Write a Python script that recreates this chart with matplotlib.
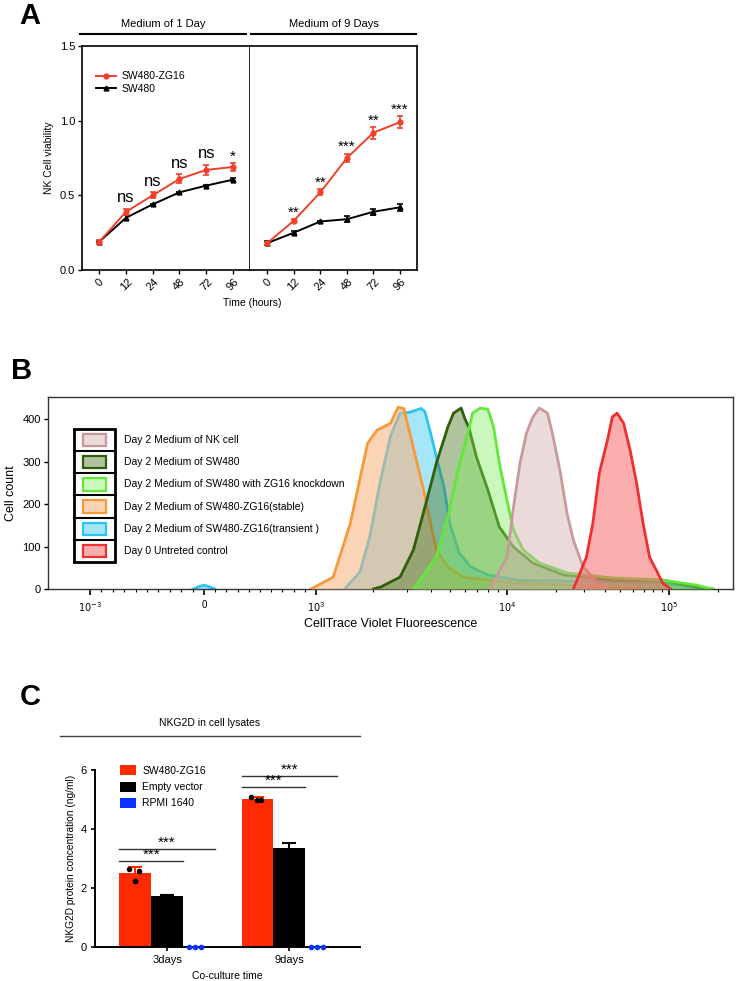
import numpy as np
import matplotlib
matplotlib.use('Agg')
from matplotlib import pyplot as plt
from matplotlib.patches import Rectangle
from matplotlib.lines import Line2D

plt.rcParams['font.family'] = ['Liberation Sans', 'DejaVu Sans']

# ---------------- panel A data
time_labels = ['0', '12', '24', '48', '72', '96']
day1_zg16 = [0.19, 0.39, 0.50, 0.61, 0.67, 0.69]
day1_zg16_err = [0.01, 0.02, 0.02, 0.03, 0.035, 0.025]
day1_sw480 = [0.19, 0.35, 0.44, 0.52, 0.565, 0.605]
day1_sw480_err = [0.005, 0.015, 0.005, 0.005, 0.005, 0.01]
day9_zg16 = [0.18, 0.33, 0.52, 0.75, 0.92, 0.99]
day9_zg16_err = [0.01, 0.01, 0.02, 0.03, 0.04, 0.04]
day9_sw480 = [0.18, 0.25, 0.325, 0.34, 0.39, 0.42]
day9_sw480_err = [0.015, 0.01, 0.005, 0.02, 0.02, 0.025]
day1_sig = ['', 'ns', 'ns', 'ns', 'ns', '*']
day9_sig = ['', '**', '**', '***', '**', '***']

# ---------------- panel B data (log10 fluorescence, cell count)
nk_logfl = [3.91, 4.00, 4.04, 4.08, 4.12, 4.16, 4.20, 4.25, 4.28, 4.33, 4.37, 4.41, 4.47, 4.56, 4.62]
nk_count = [0, 75, 193, 296, 367, 405, 426, 414, 367, 273, 179, 115, 52, 14, 0]
sw_logfl = [3.30, 3.34, 3.44, 3.51, 3.58, 3.63, 3.69, 3.72, 3.76, 3.78, 3.80, 3.84, 3.90,
            3.96, 4.04, 4.16, 4.35, 4.65, 4.96, 5.17, 5.27]
sw_count = [0, 5, 28, 92, 209, 296, 381, 414, 426, 400, 381, 311, 233, 146, 99, 61, 33, 21, 21, 5, 0]
kd_logfl = [3.51, 3.63, 3.69, 3.74, 3.79, 3.82, 3.86, 3.90, 3.93, 3.96, 4.00, 4.04, 4.10,
            4.20, 4.37, 4.65, 4.96, 5.17, 5.27]
kd_count = [0, 75, 169, 273, 358, 414, 426, 423, 381, 296, 209, 139, 92, 61, 38, 26, 21, 9, 0]
st_logfl = [2.98, 3.09, 3.18, 3.27, 3.32, 3.39, 3.43, 3.46, 3.50, 3.56, 3.60, 3.63, 3.69,
            3.77, 4.04, 4.45, 4.82]
st_count = [0, 28, 155, 343, 374, 390, 428, 425, 350, 240, 155, 92, 52, 28, 14, 8, 0]
tr_logfl = [3.15, 3.23, 3.28, 3.34, 3.39, 3.44, 3.49, 3.55, 3.57, 3.60, 3.63, 3.67, 3.70,
            3.75, 3.81, 3.90, 4.08, 4.57, 4.94, 5.13, 5.19]
tr_count = [0, 40, 120, 260, 360, 414, 416, 425, 418, 367, 311, 240, 155, 85, 52, 33, 20, 18, 15, 5, 0]
tr_zero_fl = [-95, -40, 0, 40, 95]
tr_zero_count = [0, 6, 9, 6, 0]
d0_logfl = [4.41, 4.49, 4.53, 4.57, 4.62, 4.65, 4.68, 4.72, 4.76, 4.80, 4.84, 4.88, 4.93, 4.96, 5.01]
d0_count = [0, 75, 155, 273, 350, 405, 414, 390, 327, 249, 155, 75, 38, 14, 0]
b_labels = ['Day 2 Medium of NK cell', 'Day 2 Medium of SW480',
            'Day 2 Medium of SW480 with ZG16 knockdown', 'Day 2 Medium of SW480-ZG16(stable)',
            'Day 2 Medium of SW480-ZG16(transient )', 'Day 0 Untreted control']

# ---------------- panel C data
groups = ['3days', '9days']
zg16_vals = [2.52, 5.02]
zg16_err = [0.2, 0.07]
zg16_pts = [[2.63, 2.58, 2.25], [5.10, 5.00, 5.00]]
vector_vals = [1.72, 3.36]
vector_err = [0.03, 0.16]
rpmi_vals = [0.0, 0.0]
rpmi_pts = [[0.0, 0.0, 0.0], [0.0, 0.0, 0.0]]
sig_short = [2.91, 5.42]
sig_long = [3.32, 5.80]

W, H = 737, 981
fig = plt.figure(figsize=(W / 100, H / 100), dpi=100)


def rect(l, t, r, b):
    return [l / W, 1 - b / H, (r - l) / W, (b - t) / H]


def hline(x0, x1, y, lw=1.5, color='black'):
    fig.add_artist(Line2D([x0 / W, x1 / W], [1 - y / H, 1 - y / H], lw=lw, color=color))


def ftext(x, y, s, **kw):
    fig.text(x / W, 1 - y / H, s, **kw)


RED_A = '#f0412a'

# ================= panel A
ftext(30, 16, 'A', fontsize=21, fontweight='bold', ha='center', va='center')
axA1 = fig.add_axes(rect(82, 46, 250, 270))
axA2 = fig.add_axes(rect(250, 46, 417, 270))
x = np.arange(len(time_labels))
for ax, zg, zge, sw, swe, sig, title, (l0, l1) in [
        (axA1, day1_zg16, day1_zg16_err, day1_sw480, day1_sw480_err, day1_sig, 'Medium of 1 Day', (80, 246)),
        (axA2, day9_zg16, day9_zg16_err, day9_sw480, day9_sw480_err, day9_sig, 'Medium of 9 Days', (251, 416))]:
    ax.errorbar(x, sw, yerr=swe, color='black', marker='^', ms=3.5, lw=1.4,
                elinewidth=1.2, capsize=2.5, capthick=1.2, zorder=3)
    ax.errorbar(x, zg, yerr=zge, color=RED_A, marker='o', ms=3.5, lw=1.4,
                elinewidth=1.2, capsize=2.5, capthick=1.2, zorder=4)
    for xi, yi, ei, s in zip(x, zg, zge, sig):
        if s == 'ns':
            ax.text(xi, yi + ei + 0.025, s, ha='center', va='bottom', fontsize=12)
        elif s:
            ax.text(xi, yi + ei - 0.005, s, ha='center', va='bottom', fontsize=11)
    ax.set_xlim(-0.65, 5.64)
    ax.set_ylim(0, 1.5)
    ax.set_xticks(x)
    ax.set_xticklabels(time_labels, rotation=45, fontsize=8)
    for sp in ax.spines.values():
        sp.set_linewidth(1.2)
    ax.tick_params(axis='x', length=3, width=1, pad=2)
    hline(l0, l1, 34)
    ftext((l0 + l1) / 2, 24, title, fontsize=8, ha='center', va='center')
axA1.set_yticks([0, 0.5, 1.0, 1.5])
axA1.set_yticklabels(['0.0', '0.5', '1.0', '1.5'], fontsize=8)
axA1.tick_params(axis='y', length=3, width=1, pad=2)
axA1.set_ylabel('NK Cell viability', fontsize=7.5, labelpad=4)
axA2.set_yticks([])
axA2.spines['left'].set_visible(False)
ftext(252, 303, 'Time (hours)', fontsize=7.5, ha='center', va='center')
handles = [Line2D([], [], color=RED_A, marker='o', ms=3.5, lw=1.4),
           Line2D([], [], color='black', marker='^', ms=3.5, lw=1.4)]
axA1.legend(handles, ['SW480-ZG16', 'SW480'], loc='upper left', bbox_to_anchor=(0.06, 0.905),
            frameon=False, fontsize=7.5, handlelength=1.9, labelspacing=0.25,
            handletextpad=0.5, borderaxespad=0)

# ================= panel B
ftext(22, 371, 'B', fontsize=21, fontweight='bold', ha='center', va='center')
axB = fig.add_axes(rect(48, 397, 733, 589))

NEG_PX, ZERO_PX, POS_PX = 90.0, 204.0, 316.0
DEC = [3.0, 4.0, 5.0, 7.0]
DEC_PX = [316.0, 507.0, 669.0, 993.0]


def fwd(v):
    v = np.asarray(v, dtype=float)
    with np.errstate(divide='ignore', invalid='ignore'):
        lg = np.log10(np.clip(np.abs(v), 1e-9, None))
    hi = np.interp(lg, DEC, DEC_PX, left=DEC_PX[0], right=None)
    hi = np.where(lg > DEC[-1], DEC_PX[-1] + (lg - DEC[-1]) * 162.0, hi)
    lin = np.where(v >= 0, ZERO_PX + v * (POS_PX - ZERO_PX) / 1000.0,
                   ZERO_PX + v * (ZERO_PX - NEG_PX) / 1000.0)
    return np.where(v >= 1000, hi, np.where(v <= -1000, NEG_PX - (hi - POS_PX), lin))


def inv(u):
    u = np.asarray(u, dtype=float)
    hi = 10 ** np.interp(u, DEC_PX, DEC, left=DEC[0], right=None)
    hi = np.where(u > DEC_PX[-1], 10 ** (DEC[-1] + (u - DEC_PX[-1]) / 162.0), hi)
    lo = -10 ** np.interp(NEG_PX - u + POS_PX, DEC_PX, DEC, left=DEC[0])
    lin = np.where(u >= ZERO_PX, (u - ZERO_PX) * 1000.0 / (POS_PX - ZERO_PX),
                   (u - ZERO_PX) * 1000.0 / (ZERO_PX - NEG_PX))
    return np.where(u >= POS_PX, hi, np.where(u <= NEG_PX, lo, lin))


axB.set_xscale('function', functions=(fwd, inv))

series = [
    # logfl, count, edge, fill, alpha, zorder
    (tr_logfl, tr_count, '#2ec4f2', '#5cd3f5', 0.55, 2),
    (st_logfl, st_count, '#f7993a', '#f9b27a', 0.55, 3),
    (sw_logfl, sw_count, '#2f5e0c', '#4f7a28', 0.45, 4),
    (kd_logfl, kd_count, '#63e83a', '#7cef58', 0.40, 5),
    (nk_logfl, nk_count, '#c99a9a', '#d3aeae', 0.45, 6),
    (d0_logfl, d0_count, '#ef3030', '#f66a6a', 0.55, 7),
]
for lf, cnt, ec, fc, al, z in series:
    fl = 10 ** np.array(lf)
    axB.fill_between(fl, cnt, 0, color=fc, alpha=al, lw=0, zorder=z)
    axB.plot(fl, cnt, color=ec, lw=2.0, zorder=z + 0.5)
axB.fill_between(tr_zero_fl, tr_zero_count, 0, color='#5cd3f5', alpha=0.55, lw=0, zorder=2)
axB.plot(tr_zero_fl, tr_zero_count, color='#2ec4f2', lw=2.0, zorder=2.5)

axB.set_xlim(inv(48.0), inv(733.0))
axB.set_ylim(0, 452)
axB.set_yticks([0, 100, 200, 300, 400])
axB.tick_params(axis='y', labelsize=8, length=3, width=1, pad=2)
axB.set_xticks([-1000, 0, 1000, 1e4, 1e5])
axB.set_xticklabels([r'$10^{-3}$', '0', r'$10^{3}$', r'$10^{4}$', r'$10^{5}$'], fontsize=7)
minor = list(np.arange(-900, 0, 100)) + list(np.arange(100, 1000, 100)) + \
    [m * 10 ** k for k in (3, 4) for m in range(2, 10)] + [2e5]
axB.set_xticks(minor, minor=True)
axB.tick_params(axis='x', which='major', length=4, width=1.2, pad=4)
axB.tick_params(axis='x', which='minor', length=2.5, width=0.8)
for sp in axB.spines.values():
    sp.set_linewidth(1.0)
    sp.set_color('#333333')
axB.set_ylabel('Cell count', fontsize=9, labelpad=4)
axB.set_xlabel('CellTrace Violet Fluoreescence', fontsize=9, labelpad=3)

# legend box drawn as a bordered column of swatches
bl, br, bb, bt = 0.038, 0.098, 0.141, 0.833
rh = (bt - bb) / len(b_labels)
leg_order = [4, 2, 3, 1, 0, 5]
axB.add_patch(Rectangle((bl, bb), br - bl, bt - bb, transform=axB.transAxes, fill=False,
                        lw=2.0, ec='black', zorder=20))
for i, (lab, k) in enumerate(zip(b_labels, leg_order)):
    ec, fc, al = series[k][2], series[k][3], series[k][4]
    ytop = bt - i * rh
    if i > 0:
        axB.plot([bl, br], [ytop, ytop], transform=axB.transAxes, color='black', lw=1.5, zorder=20)
    axB.add_patch(Rectangle((0.051, ytop - rh * 0.78), 0.033, rh * 0.56, transform=axB.transAxes,
                            fc=fc, alpha=al, lw=0, zorder=21))
    axB.add_patch(Rectangle((0.051, ytop - rh * 0.78), 0.033, rh * 0.56, transform=axB.transAxes,
                            fill=False, ec=ec, lw=1.6, zorder=22))
    axB.text(0.111, ytop - rh / 2, lab, transform=axB.transAxes, fontsize=7.5,
             va='center', ha='left', zorder=22)

# ================= panel C
ftext(30, 697, 'C', fontsize=21, fontweight='bold', ha='center', va='center')
ftext(210, 723, 'NKG2D in cell lysates', fontsize=7.5, ha='center', va='center')
hline(60, 360, 736, lw=1.0, color='#444444')
axC = fig.add_axes(rect(95, 770, 360, 947))
gx = np.arange(len(groups))
w = 0.26
RED_C, BLUE_C = '#ff2a00', '#0a32ff'
axC.bar(gx - w, zg16_vals, w, color=RED_C, yerr=zg16_err,
        error_kw=dict(ecolor=RED_C, capsize=5, elinewidth=1.5, capthick=1.5), label='SW480-ZG16')
axC.bar(gx, vector_vals, w, color='black', yerr=vector_err,
        error_kw=dict(ecolor='black', capsize=5, elinewidth=1.5, capthick=1.5), label='Empty vector')
axC.bar(gx + w, rpmi_vals, w, color=BLUE_C, label='RPMI 1640')
jit = np.array([-0.05, 0.03, 0.0])
for g in gx:
    axC.scatter(g - w + jit, zg16_pts[g], s=9, color='black', zorder=5)
    axC.scatter(g + w + np.array([-0.08, -0.03, 0.02]), rpmi_pts[g], s=9, color=BLUE_C,
                zorder=5, clip_on=False)
    for yv, x1 in [(sig_short[g], g + w / 2), (sig_long[g], g + 1.5 * w)]:
        axC.plot([g - 1.5 * w, x1], [yv, yv], color='#333333', lw=1.0, clip_on=False)
        axC.text((g - 1.5 * w + x1) / 2, yv - 0.02, '***', ha='center', va='bottom',
                 fontsize=11, clip_on=False)
axC.set_xlim(-0.59, 1.58)
axC.set_ylim(0, 6)
axC.set_yticks([0, 2, 4, 6])
axC.set_xticks(gx)
axC.set_xticklabels(groups)
axC.tick_params(labelsize=8, length=3, width=1.2, pad=3)
axC.spines['top'].set_visible(False)
axC.spines['right'].set_visible(False)
axC.spines['left'].set_linewidth(1.4)
axC.spines['bottom'].set_linewidth(1.4)
axC.set_ylabel('NKG2D protein concentration (ng/ml)', fontsize=7.3, labelpad=3)
axC.set_xlabel('Co-culture time', fontsize=7.5, labelpad=4)
axC.legend(loc='upper left', bbox_to_anchor=(0.08, 1.05), frameon=False, fontsize=7.5,
           handlelength=1.5, handleheight=1.1, labelspacing=0.55, handletextpad=0.6,
           borderaxespad=0)

fig.savefig('out.png', dpi=100)
